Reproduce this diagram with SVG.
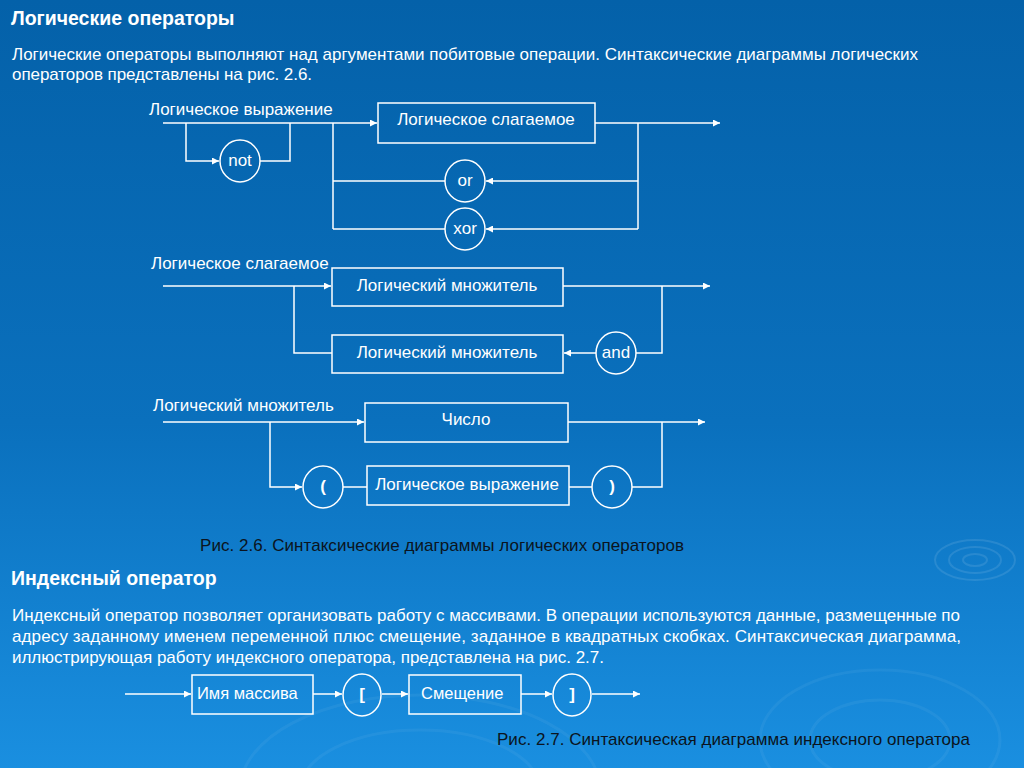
<svg xmlns="http://www.w3.org/2000/svg" width="1024" height="768" viewBox="0 0 1024 768">
<defs>
<linearGradient id="bg" x1="0" y1="0" x2="0" y2="1">
<stop offset="0" stop-color="#0461a9"/>
<stop offset="0.55" stop-color="#0a70bd"/>
<stop offset="1" stop-color="#1a8fe0"/>
</linearGradient>
<marker id="ah" viewBox="0 0 10 10" refX="10" refY="5" markerWidth="9" markerHeight="7" markerUnits="userSpaceOnUse" orient="auto">
<path d="M0,0 L10,5 L0,10 z" fill="#ffffff"/>
</marker>
<style>
.t{font-family:"Liberation Sans",Arial,sans-serif;fill:#ffffff;font-size:17px}
.h{font-family:"Liberation Sans",Arial,sans-serif;fill:#ffffff;font-size:19.5px;font-weight:bold}
.cap{font-family:"Liberation Sans",Arial,sans-serif;fill:#0b1420;font-size:17px}
.n{font-family:"Liberation Sans",Arial,sans-serif;fill:#ffffff;font-size:17px;text-anchor:middle}
.b{font-weight:bold}
.box{fill:none;stroke:#ffffff;stroke-width:1.5}
.ln{fill:none;stroke:#ffffff;stroke-width:1.5}
.ar{marker-end:url(#ah)}
.rip{fill:none;stroke:#ffffff;stroke-opacity:0.1;stroke-width:2}
.rip2{fill:none;stroke:#ffffff;stroke-opacity:0.05;stroke-width:3}
</style>
</defs>
<rect x="0" y="0" width="1024" height="768" fill="url(#bg)"/>
<g id="ripples">
<ellipse class="rip" cx="975" cy="560" rx="12" ry="6"/>
<ellipse class="rip" cx="975" cy="560" rx="26" ry="13"/>
<ellipse class="rip" cx="975" cy="560" rx="40" ry="20"/>
<ellipse class="rip2" cx="880" cy="740" rx="70" ry="40"/>
<ellipse class="rip2" cx="880" cy="740" rx="120" ry="70"/>
<ellipse class="rip2" cx="420" cy="790" rx="120" ry="60"/>
<ellipse class="rip2" cx="420" cy="790" rx="180" ry="95"/>
</g>
<g id="texts">
<text class="h" x="11" y="25">Логические операторы</text>
<text class="t" x="12" y="60" textLength="906">Логические операторы выполняют над аргументами побитовые операции. Синтаксические диаграммы логических</text>
<text class="t" x="12" y="80" textLength="300">операторов представлены на рис. 2.6.</text>
<text class="cap" x="200" y="551" textLength="484">Рис. 2.6. Синтаксические диаграммы логических операторов</text>
<text class="h" x="11" y="585">Индексный оператор</text>
<text class="t" x="12" y="621" textLength="948">Индексный оператор позволяет организовать работу с массивами. В операции используются данные, размещенные по</text>
<text class="t" x="12" y="642" textLength="949">адресу заданному именем переменной плюс смещение, заданное в квадратных скобках. Синтаксическая диаграмма,</text>
<text class="t" x="12" y="663" textLength="592">иллюстрирующая работу индексного оператора, представлена на рис. 2.7.</text>
<text class="cap" x="497" y="745" textLength="473">Рис. 2.7. Синтаксическая диаграмма индексного оператора</text>
<text class="t" x="149" y="115">Логическое выражение</text>
<text class="t" x="151" y="269">Логическое слагаемое</text>
<text class="t" x="153" y="411">Логический множитель</text>
</g>
<g id="connectors">
<path class="ln ar" d="M163,123 H377"/>
<path class="ln ar" d="M595,123 H720"/>
<path class="ln ar" d="M186,123 V161 H219"/>
<path class="ln" d="M260,161 H290 V123"/>
<path class="ln" d="M333,123 V229"/>
<path class="ln" d="M333,181 H445"/>
<path class="ln" d="M333,229 H445"/>
<path class="ln" d="M638,123 V229"/>
<path class="ln ar" d="M638,181 H486"/>
<path class="ln ar" d="M638,229 H486"/>
<path class="ln ar" d="M163,286 H331"/>
<path class="ln ar" d="M563,286 H710"/>
<path class="ln" d="M294,286 V353 H332"/>
<path class="ln" d="M662,286 V353 H636"/>
<path class="ln ar" d="M596,353 H564"/>
<path class="ln ar" d="M163,422 H364"/>
<path class="ln ar" d="M568,422 H705"/>
<path class="ln ar" d="M270,422 V487 H302"/>
<path class="ln" d="M343,487 H367"/>
<path class="ln" d="M569,487 H592"/>
<path class="ln" d="M632,487 H662 V422"/>
<path class="ln ar" d="M125,694 H191"/>
<path class="ln ar" d="M313,694 H342"/>
<path class="ln ar" d="M382,694 H408"/>
<path class="ln ar" d="M521,694 H552"/>
<path class="ln ar" d="M592,694 H640"/>
</g>
<g id="n-slag1"><rect class="box" x="378" y="103" width="217" height="40"/><text class="n" x="486" y="125">Логическое слагаемое</text></g>
<g id="n-not"><ellipse class="box" cx="240" cy="161" rx="20" ry="21"/><text class="n" x="240" y="166">not</text></g>
<g id="n-or"><ellipse class="box" cx="465" cy="181" rx="20" ry="21"/><text class="n" x="465" y="186">or</text></g>
<g id="n-xor"><ellipse class="box" cx="465" cy="229" rx="20" ry="21"/><text class="n" x="465" y="234">xor</text></g>
<g id="n-mn1"><rect class="box" x="332" y="268" width="231" height="38"/><text class="n" x="447" y="291">Логический множитель</text></g>
<g id="n-mn2"><rect class="box" x="332" y="335" width="231" height="38"/><text class="n" x="447" y="358">Логический множитель</text></g>
<g id="n-and"><ellipse class="box" cx="616" cy="353" rx="20" ry="21"/><text class="n" x="616" y="358">and</text></g>
<g id="n-num"><rect class="box" x="365" y="403" width="203" height="39"/><text class="n" x="466" y="425">Число</text></g>
<g id="n-lp"><ellipse class="box" cx="323" cy="487" rx="20" ry="21"/><text class="n b" x="323" y="492">(</text></g>
<g id="n-expr"><rect class="box" x="367" y="466" width="202" height="39"/><text class="n" x="467" y="490">Логическое выражение</text></g>
<g id="n-rp"><ellipse class="box" cx="612" cy="487" rx="20" ry="21"/><text class="n b" x="612" y="492">)</text></g>
<g id="n-arr"><rect class="box" x="192" y="675" width="121" height="39"/><text class="t" x="197" y="699" style="font-size:16.5px">Имя массива</text></g>
<g id="n-lb"><ellipse class="box" cx="362" cy="695" rx="19" ry="21"/><text class="n b" x="362" y="700">[</text></g>
<g id="n-off"><rect class="box" x="409" y="675" width="112" height="39"/><text class="t" x="421" y="699" style="font-size:16.5px">Смещение</text></g>
<g id="n-rb"><ellipse class="box" cx="572" cy="695" rx="19" ry="21"/><text class="n b" x="572" y="700">]</text></g>
</svg>
